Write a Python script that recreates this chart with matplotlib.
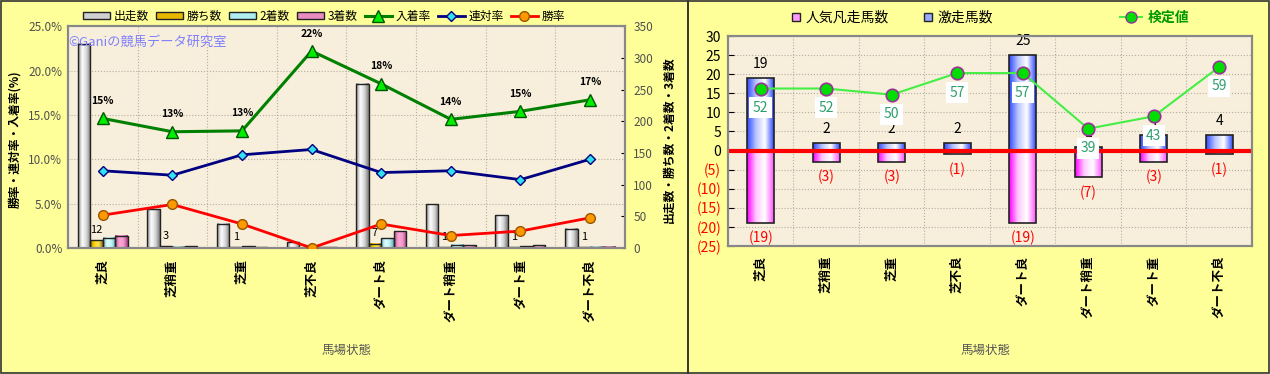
import numpy as np
import matplotlib
matplotlib.use("Agg")
import matplotlib.pyplot as plt
from matplotlib.colors import LinearSegmentedColormap
from matplotlib.patches import Patch, Rectangle
from matplotlib.lines import Line2D
from matplotlib.ticker import MultipleLocator, FixedLocator

plt.rcParams['font.family'] = ['Noto Sans CJK JP', 'DejaVu Sans']

# --- data ---
conditions = ['芝良', '芝稍重', '芝重', '芝不良', 'ダート良', 'ダート稍重', 'ダート重', 'ダート不良']
runs = [322, 61, 38, 9, 259, 69, 52, 30]
wins = [12, 3, 1, 0, 7, 1, 1, 1]
seconds = [16, 2, 3, 1, 15, 5, 3, 2]
thirds = [19, 3, 1, 1, 26, 4, 4, 2]
win_rate = [3.7, 4.9, 2.7, 0.0, 2.7, 1.4, 1.9, 3.4]
rentai_rate = [8.7, 8.2, 10.5, 11.1, 8.5, 8.7, 7.7, 10.0]
place_rate = [14.6, 13.1, 13.2, 22.2, 18.5, 14.5, 15.4, 16.7]
place_labels = ['15%', '13%', '13%', '22%', '18%', '14%', '15%', '17%']

gekisou = [19, 2, 2, 2, 25, 1, 4, 4]      # 激走馬数
bonsou = [19, 3, 3, 1, 19, 7, 3, 1]       # 人気凡走馬数
kentei = [52, 52, 50, 57, 57, 39, 43, 59]  # 検定値

BG = '#FFFF99'
PLOT_BG = '#F7EFDB'
GRID = dict(color='#B5AFA2', linestyle=':', linewidth=0.8)


def gradient(ax, bars, cols):
    cmap = LinearSegmentedColormap.from_list('g', cols)
    grad = np.linspace(0, 1, 64).reshape(1, -1)
    for b in bars:
        h = b.get_height()
        if h == 0:
            continue
        x0, y0, w = b.get_x(), b.get_y(), b.get_width()
        lo, hi = min(y0, y0 + h), max(y0, y0 + h)
        ax.imshow(grad, extent=(x0, x0 + w, lo, hi), aspect='auto', cmap=cmap,
                  interpolation='bicubic', zorder=2)
        b.set_facecolor('none')


fig = plt.figure(figsize=(12.7, 3.74), dpi=100, facecolor=BG)
x = np.arange(len(conditions)) + 0.5

# ================= left panel =================
axc = fig.add_axes([0.0535, 0.337, 0.4385, 0.593])
axc.set_facecolor(PLOT_BG)
axc.set_axisbelow(True)
w = 0.18
bar_series = [
    (runs, '出走数', ['#8C8C8C', '#FFFFFF', '#D5D5D5', '#7A7A7A'], '#D0D0D0'),
    (wins, '勝ち数', ['#A07800', '#FFD700', '#FFE45C', '#9A7000'], '#E8B800'),
    (seconds, '2着数', ['#6FB6C0', '#E0FFFF', '#BDF3F7', '#5FA8B2'], '#AEEEEE'),
    (thirds, '3着数', ['#B04A88', '#FFA6D6', '#F29ACB', '#A03C7A'], '#E98CC3'),
]
handles = []
for k, (vals, name, cols, mid) in enumerate(bar_series):
    bars = axc.bar(x + (k - 1.5) * w, vals, w, edgecolor='#222222', linewidth=1, zorder=3)
    gradient(axc, bars, cols)
    handles.append(Patch(facecolor=mid, edgecolor='#222222', label=name))

for xi, v in zip(x - 0.5 * w, wins):
    if v:
        axc.annotate(str(v), (xi, v), xytext=(0, 4), textcoords='offset points',
                     ha='center', va='bottom', fontsize=8, zorder=5)

axc.set_xlim(0, 8)
axc.set_ylim(0, 350)
axc.set_yticks(np.arange(0, 351, 50))
axc.yaxis.set_minor_locator(MultipleLocator(70))
axc.xaxis.set_minor_locator(FixedLocator(range(1, 8)))
axc.grid(which='minor', **GRID)
axc.set_xticks(x)
axc.set_xticklabels(conditions, rotation=90, va='top', fontsize=9, fontweight='bold')
axc.tick_params(axis='x', which='both', length=0, pad=8)
axc.tick_params(axis='y', which='minor', length=0)

axp = axc.twinx()
axc.yaxis.tick_right()
axp.yaxis.tick_left()
axc.tick_params(axis='y', which='major', direction='in', length=3, labelsize=8.5,
                labelcolor='#505050', pad=6)
axp.set_ylim(0, 25)
axp.set_yticks(np.arange(0, 26, 5))
axp.set_yticklabels([f'{v:.1f}%' for v in np.arange(0, 26, 5)])
axp.tick_params(axis='y', length=0, labelsize=8.5, labelcolor='#505050', pad=4)

l1, = axp.plot(x, place_rate, color='#008000', lw=2.2, marker='^', ms=9,
               mfc='#00EE00', mec='#005500', label='入着率', zorder=4)
l2, = axp.plot(x, rentai_rate, color='#000080', lw=2, marker='D', ms=5.5,
               mfc='#33E0F0', mec='#000080', label='連対率', zorder=4)
l3, = axp.plot(x, win_rate, color='#FF0000', lw=2, marker='o', ms=7,
               mfc='#FF9900', mec='#995500', label='勝率', zorder=4)
for xi, v, t in zip(x, place_rate, place_labels):
    axp.annotate(t, (xi, v), xytext=(0, 9), textcoords='offset points',
                 ha='center', va='bottom', fontsize=7.5, fontweight='bold')
axp.text(0.0, 0.928, '©Ganiの競馬データ研究室', transform=axp.transAxes,
         color='#8080FF', fontsize=9.5, ha='left', va='center')

for a in (axc, axp):
    for s in a.spines.values():
        s.set_color('#888888')
        s.set_linewidth(1.5)

fig.legend(handles + [l1, l2, l3], [h.get_label() for h in handles + [l1, l2, l3]],
           loc='center', bbox_to_anchor=(0.255, 0.957), ncol=7, frameon=False,
           fontsize=8.5, handlelength=2.3, handleheight=0.55, columnspacing=0.6,
           handletextpad=0.3)
fig.text(0.012, 0.628, '勝率・連対率・入着率(%)', rotation=90, ha='center', va='center',
         fontsize=8.5, fontweight='bold')
fig.text(0.527, 0.626, '出走数・勝ち数・2着数・3着数', rotation=90, ha='center', va='center',
         fontsize=8.5, fontweight='bold')
fig.text(0.273, 0.064, '馬場状態', ha='center', va='center', fontsize=9, color='#555555')

# ================= right panel =================
axr = fig.add_axes([0.5732, 0.3422, 0.4126, 0.5615])
axr.set_facecolor(PLOT_BG)
axr.set_axisbelow(True)
bw = 0.41
bars_up = axr.bar(x, gekisou, bw, edgecolor='#222222', linewidth=1.2, zorder=3)
gradient(axr, bars_up, ['#2F4CFF', '#B8C4FF', '#FFFFFF', '#2F4CFF'])
bars_dn = axr.bar(x, -np.array(bonsou), bw, edgecolor='#222222', linewidth=1.2, zorder=3)
gradient(axr, bars_dn, ['#FF00FF', '#FFC8FF', '#FFFFFF', '#FF55FF'])
axr.axhline(0, color='#FF0000', lw=3, zorder=4)

for xi, v in zip(x, gekisou):
    axr.annotate(str(v), (xi, v), xytext=(0, 10), textcoords='offset points',
                 ha='center', va='center', fontsize=10, zorder=5)
for xi, v in zip(x, bonsou):
    axr.annotate(f'({v})', (xi, -v), xytext=(0, -11), textcoords='offset points',
                 ha='center', va='center', fontsize=10, color='#FF0000', zorder=5)

axr.set_xlim(0, 8)
axr.set_ylim(-25, 30)
yt = np.arange(-25, 31, 5)
axr.set_yticks(yt)
axr.set_yticklabels([str(v) if v >= 0 else f'({-v})' for v in yt])
for lab, v in zip(axr.get_yticklabels(), yt):
    lab.set_color('#FF0000' if v < 0 else '#000000')
axr.tick_params(axis='y', direction='in', length=4, labelsize=10, pad=5)
axr.grid(axis='y', **GRID)
axr.xaxis.set_minor_locator(FixedLocator(range(1, 8)))
axr.grid(axis='x', which='minor', **GRID)
axr.set_xticks(x)
axr.set_xticklabels(conditions, rotation=90, va='top', fontsize=9, fontweight='bold')
axr.tick_params(axis='x', which='both', length=0, pad=7)

axk = axr.twinx()
axk.set_ylim(1, 69)
axk.set_yticks([])
l4, = axk.plot(x, kentei, color='#44EE44', lw=1.5, marker='o', ms=9,
               mfc='#00DD00', mec='#993399', mew=1.2, zorder=4)
for xi, v in zip(x, kentei):
    axk.annotate(str(v), (xi, v), xytext=(0, -14), textcoords='offset points',
                 ha='center', va='center', fontsize=10, color='#2E9E6E',
                 bbox=dict(boxstyle='square,pad=0.25', fc='white', ec='none'))
for a in (axr, axk):
    for s in a.spines.values():
        s.set_color('#888888')
        s.set_linewidth(1.5)

rh = [Line2D([], [], ls='none', marker='s', ms=6, mfc='#FF99FF', mec='#222222'),
      Line2D([], [], ls='none', marker='s', ms=6, mfc='#99AAFF', mec='#222222')]
leg1 = fig.legend(rh, ['人気凡走馬数', '激走馬数'], loc='center',
                  bbox_to_anchor=(0.702, 0.952), ncol=2, frameon=False, fontsize=10,
                  columnspacing=2.4, handletextpad=0.2, handlelength=0.9)
kh = Line2D([], [], color='#44EE44', lw=1.5, marker='o', ms=8,
            mfc='#00DD00', mec='#993399')
leg2 = fig.legend([kh], ['検定値'], loc='center', bbox_to_anchor=(0.909, 0.952),
                  frameon=False, fontsize=10, handletextpad=0.4, handlelength=1.6)
leg2.get_texts()[0].set_color('#009900')
leg2.get_texts()[0].set_fontweight('bold')
fig.text(0.776, 0.064, '馬場状態', ha='center', va='center', fontsize=9, color='#555555')

# panel frames
fig.add_artist(Rectangle((0.001, 0.003), 688 / 1270 - 0.001, 0.994, transform=fig.transFigure,
                         fill=False, ec='#333333', lw=1.2))
fig.add_artist(Rectangle((688 / 1270, 0.003), 1 - 688 / 1270 - 0.001, 0.994,
                         transform=fig.transFigure, fill=False, ec='#333333', lw=1.2))

fig.savefig('out.png', dpi=100, facecolor=fig.get_facecolor())
